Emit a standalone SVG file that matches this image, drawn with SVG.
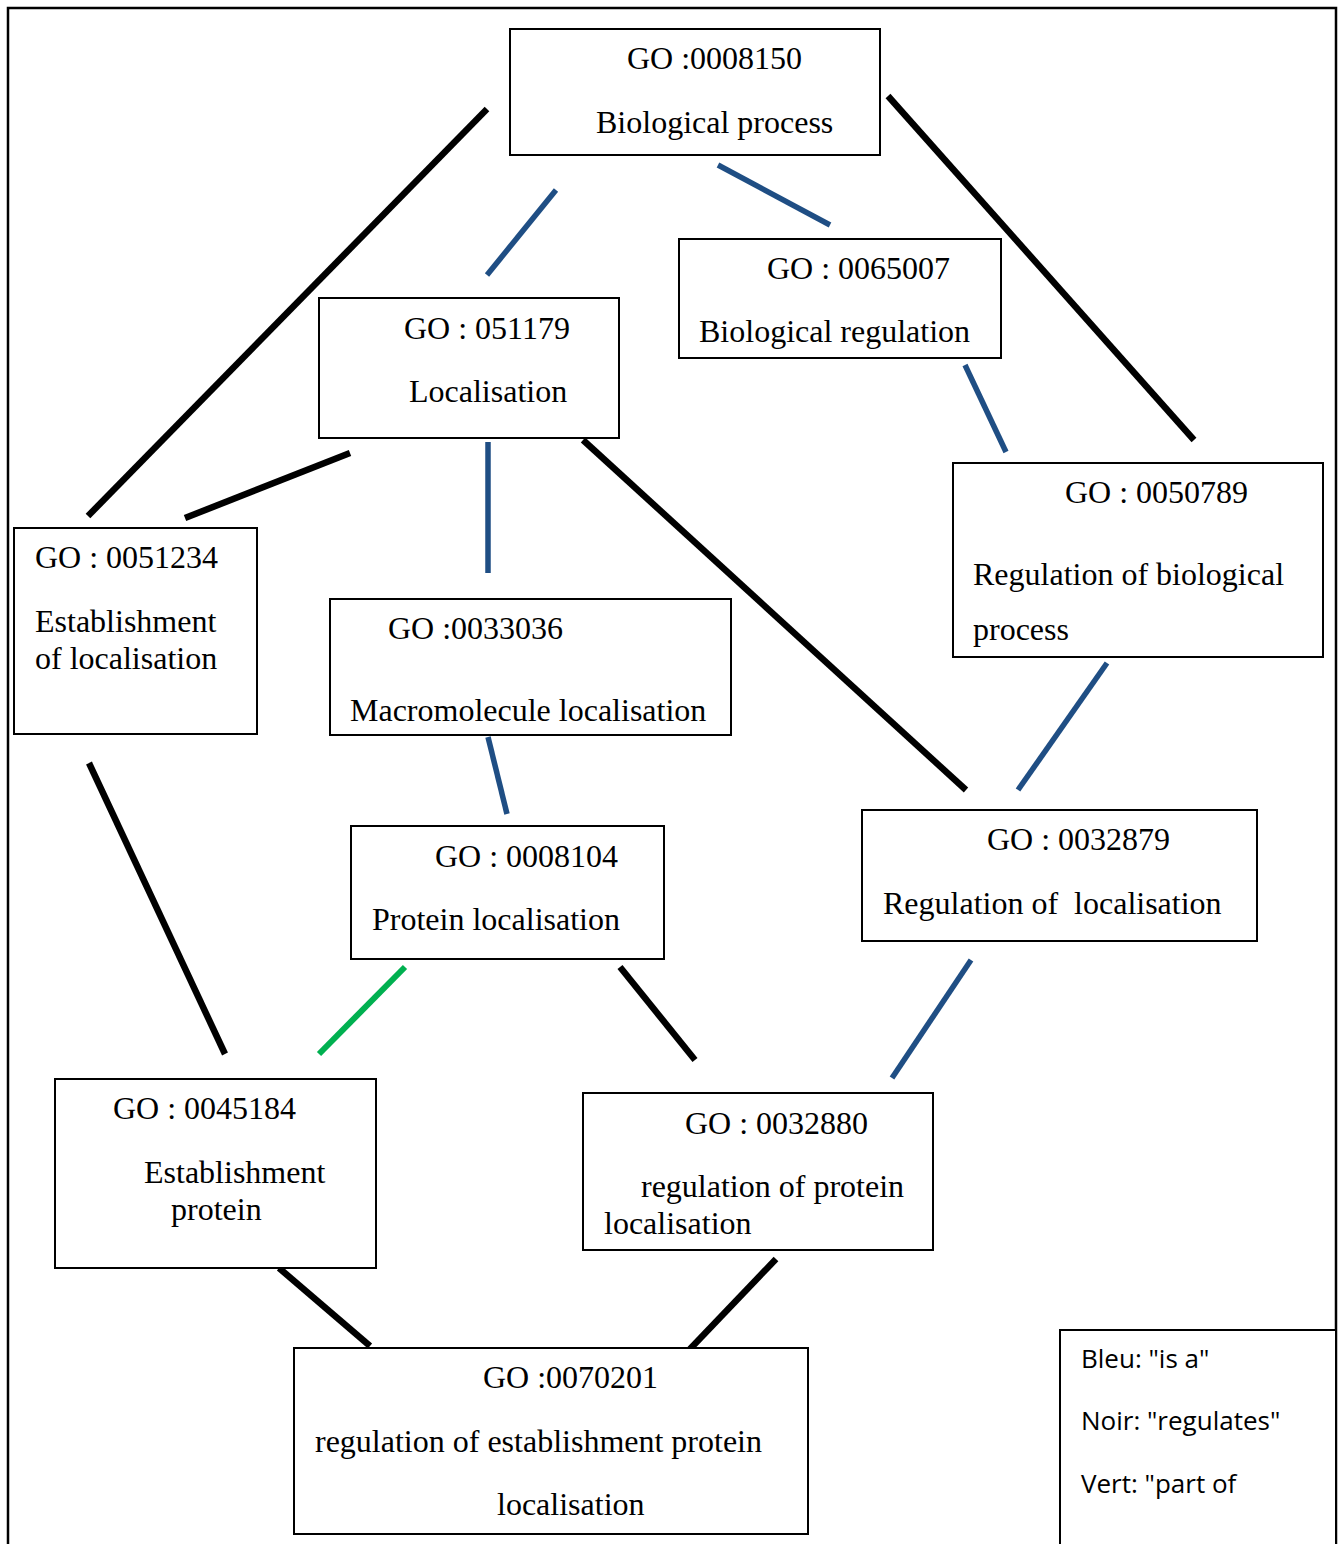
<svg xmlns="http://www.w3.org/2000/svg" width="1343" height="1544" viewBox="0 0 1343 1544">
<style>
.box{fill:#fff;stroke:#000;stroke-width:2}
.t{font-family:"Liberation Serif","Times New Roman",serif;font-size:32px;fill:#000}
.lg{font-family:"Open Sans","Noto Sans",sans-serif;font-size:26px;fill:#000}
.k{stroke:#000;stroke-width:6.5;fill:none}
.b{stroke:#1F4E84;stroke-width:5.5;fill:none}
.g{stroke:#00B050;stroke-width:6;fill:none}
</style>
<rect width="1343" height="1544" fill="#fff"/>
<path d="M8,1544 V8 H1336 V1544" fill="none" stroke="#000" stroke-width="2.5"/>
<g id="connectors">
<line class="k" x1="487" y1="109" x2="88" y2="516"/>
<line class="k" x1="888" y1="96" x2="1194" y2="440"/>
<line class="k" x1="350" y1="453" x2="185" y2="518"/>
<line class="k" x1="583" y1="440" x2="966" y2="790"/>
<line class="k" x1="89" y1="763" x2="225" y2="1054"/>
<line class="k" x1="620" y1="967" x2="695" y2="1060"/>
<line class="k" x1="279" y1="1268" x2="370" y2="1346"/>
<line class="k" x1="776" y1="1259" x2="690" y2="1349"/>
<line class="b" x1="556" y1="190" x2="487" y2="275"/>
<line class="b" x1="718" y1="165" x2="830" y2="225"/>
<line class="b" x1="965" y1="365" x2="1006" y2="452"/>
<line class="b" x1="488" y1="442" x2="488" y2="573"/>
<line class="b" x1="488" y1="737" x2="507" y2="814"/>
<line class="b" x1="1107" y1="663" x2="1018" y2="790"/>
<line class="b" x1="971" y1="960" x2="892" y2="1078"/>
<line class="g" x1="405" y1="967" x2="319" y2="1054"/>
</g>
<g id="n0008150"><rect class="box" x="510" y="29" width="370" height="126"/>
<text class="t" x="627" y="69">GO :0008150</text><text class="t" x="596" y="133">Biological process</text></g>
<g id="n0065007"><rect class="box" x="679" y="239" width="322" height="119"/>
<text class="t" x="767" y="279">GO : 0065007</text><text class="t" x="699" y="342">Biological regulation</text></g>
<g id="n051179"><rect class="box" x="319" y="298" width="300" height="140"/>
<text class="t" x="404" y="339">GO : 051179</text><text class="t" x="409" y="402">Localisation</text></g>
<g id="n0050789"><rect class="box" x="953" y="463" width="370" height="194"/>
<text class="t" x="1065" y="503">GO : 0050789</text><text class="t" x="973" y="585">Regulation of biological</text><text class="t" x="973" y="640">process</text></g>
<g id="n0051234"><rect class="box" x="14" y="528" width="243" height="206"/>
<text class="t" x="35" y="568">GO : 0051234</text><text class="t" x="35" y="632">Establishment</text><text class="t" x="35" y="669">of localisation</text></g>
<g id="n0033036"><rect class="box" x="330" y="599" width="401" height="136"/>
<text class="t" x="388" y="639">GO :0033036</text><text class="t" x="350" y="721">Macromolecule localisation</text></g>
<g id="n0008104"><rect class="box" x="351" y="826" width="313" height="133"/>
<text class="t" x="435" y="867">GO : 0008104</text><text class="t" x="372" y="930">Protein localisation</text></g>
<g id="n0032879"><rect class="box" x="862" y="810" width="395" height="131"/>
<text class="t" x="987" y="850">GO : 0032879</text><text class="t" x="883" y="914" xml:space="preserve">Regulation of  localisation</text></g>
<g id="n0045184"><rect class="box" x="55" y="1079" width="321" height="189"/>
<text class="t" x="113" y="1119">GO : 0045184</text><text class="t" x="144" y="1183">Establishment</text><text class="t" x="171" y="1220">protein</text></g>
<g id="n0032880"><rect class="box" x="583" y="1093" width="350" height="157"/>
<text class="t" x="685" y="1134">GO : 0032880</text><text class="t" x="641" y="1197">regulation of protein</text><text class="t" x="604" y="1234">localisation</text></g>
<g id="n0070201"><rect class="box" x="294" y="1348" width="514" height="186"/>
<text class="t" x="483" y="1388">GO :0070201</text><text class="t" x="315" y="1452">regulation of establishment protein</text><text class="t" x="497" y="1515">localisation</text></g>
<g id="legend"><path d="M1060,1546 V1330 H1336 V1546" fill="#fff" stroke="#000" stroke-width="2"/>
<text class="lg" x="1081" y="1368">Bleu: "is a"</text><text class="lg" x="1081" y="1430">Noir: "regulates"</text><text class="lg" x="1081" y="1493">Vert: "part of</text></g>
</svg>
